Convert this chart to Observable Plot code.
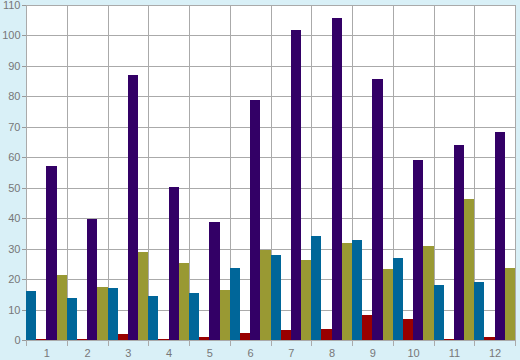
<!DOCTYPE html>
<html>
<head>
<meta charset="utf-8">
<script src="https://cdn.jsdelivr.net/npm/d3@7"></script>
<script src="https://cdn.jsdelivr.net/npm/@observablehq/plot@0.6"></script>
<style>
  html, body { margin: 0; padding: 0; background: #d9f0f7; }
  #chart svg { display: block; }
</style>
</head>
<body>
<div id="chart"></div>
<script>
const months = ["1","2","3","4","5","6","7","8","9","10","11","12"];
const seriesNames = ["A","B","C","D"];
const seriesColors = ["#006699","#990000","#330066","#999933"];
const seriesA = [16.1, 13.8, 17.1, 14.4, 15.4, 23.6, 27.9, 34.2, 32.8, 26.9, 18.1, 19.0];
const seriesB = [0.4, 0.4, 2.0, 0.2, 1.0, 2.3, 3.3, 3.6, 8.2, 6.9, 0.3, 1.0];
const seriesC = [57.1, 39.7, 87.0, 50.2, 38.8, 78.8, 101.8, 105.7, 85.7, 59.1, 64.0, 68.3];
const seriesD = [21.3, 17.4, 28.9, 25.3, 16.4, 29.6, 26.3, 31.9, 23.3, 30.9, 46.3, 23.6];
const yTicks = [0,10,20,30,40,50,60,70,80,90,100,110];

const allSeries = [seriesA, seriesB, seriesC, seriesD];
const data = [];
months.forEach((m, i) => {
  seriesNames.forEach((s, j) => {
    data.push({month: m, series: s, value: allSeries[j][i]});
  });
});

const crisp = {shapeRendering: "crispEdges"};

const chart = Plot.plot({
  width: 520,
  height: 360,
  marginLeft: 26,
  marginRight: 5,
  marginTop: 5,
  marginBottom: 20,
  style: {background: "#d9f0f7", fontFamily: "Liberation Sans, Arial, sans-serif", fontSize: "11px"},
  fx: {domain: months, padding: 0, round: false},
  x: {domain: seriesNames, padding: 0, round: false, axis: null},
  y: {domain: [0, 110]},
  color: {domain: seriesNames, range: seriesColors},
  marks: [
    Plot.frame({fill: "white", ...crisp}),
    Plot.gridY(yTicks, {stroke: "#aaaaaa", strokeOpacity: 1, ...crisp}),
    Plot.frame({stroke: "#aaaaaa", ...crisp}),
    Plot.frame({anchor: "left", stroke: "#aaaaaa", insetBottom: -5, ...crisp}),
    Plot.frame({anchor: "right", stroke: "#aaaaaa", insetBottom: -5, ...crisp}),
    Plot.barY(data, {fx: "month", x: "series", y: "value", fill: "series", ...crisp}),
    Plot.axisY(yTicks, {tickSize: 4, tickPadding: 2, label: null, stroke: "#999999", fill: "#777777", fontSize: 11, ...crisp}),
    Plot.axisFx({anchor: "bottom", tickSize: 0, tickPadding: 9, label: null, fill: "#777777", fontSize: 11})
  ]
});
document.getElementById("chart").appendChild(chart);
</script>
</body>
</html>
